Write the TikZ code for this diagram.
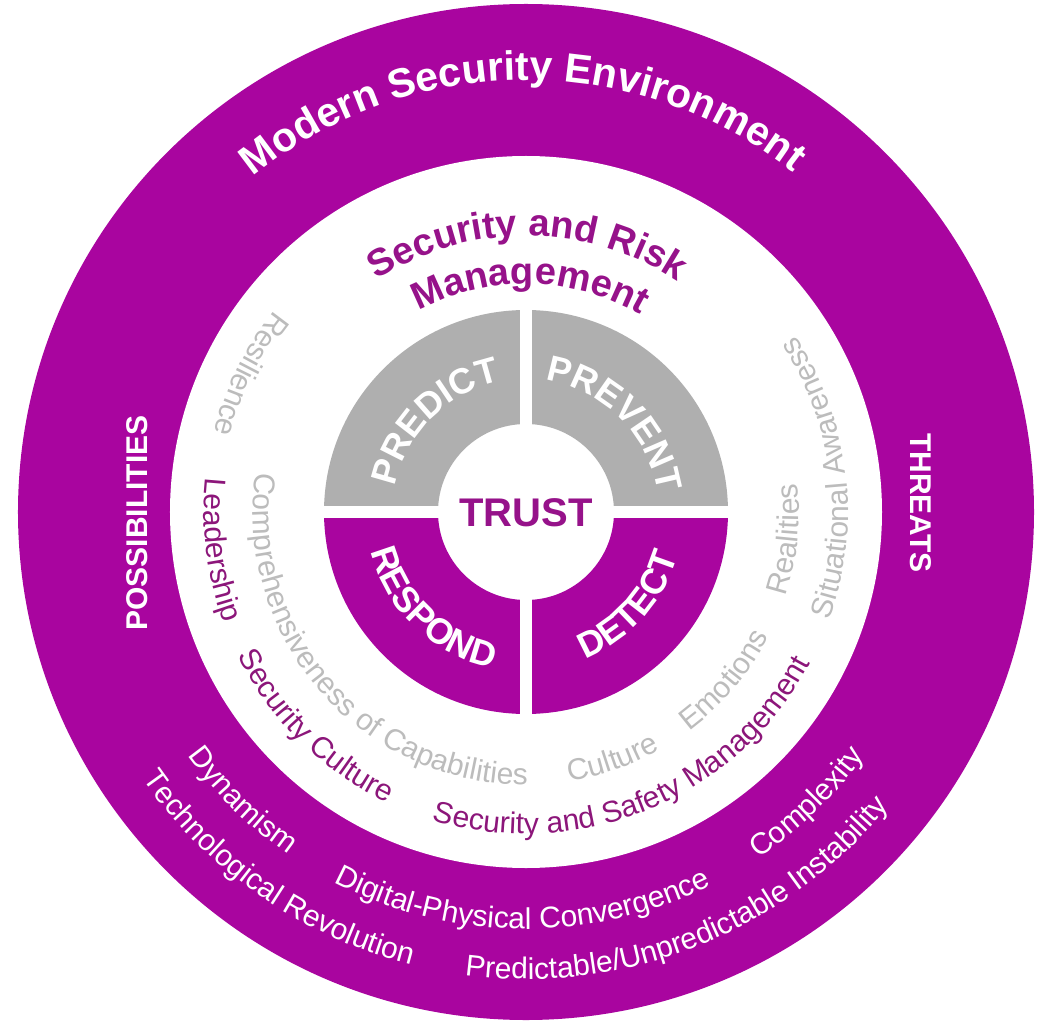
\documentclass[tikz,border=0pt]{standalone}
\usepackage{fontspec}
\setmainfont{Liberation Sans}
\usetikzlibrary{decorations.text}

\definecolor{ringmag}{RGB}{169,5,159}
\definecolor{quadgray}{RGB}{175,175,175}
\definecolor{titlemag}{RGB}{150,18,138}
\definecolor{itemmag}{RGB}{140,22,122}
\definecolor{itemgray}{RGB}{188,188,188}

% fonts (1pt = 1px of the picture)
\newcommand{\bigbold}{\bfseries\fontsize{41}{48}\selectfont}
\newcommand{\midbold}{\bfseries\fontsize{38}{44}\selectfont}
\newcommand{\quadbold}{\bfseries\fontsize{36}{42}\selectfont}
\newcommand{\ringfont}{\fontsize{30}{36}\selectfont}

% text on an arc, centred at an angle: tops outward (cw) or inward (ccw)
\newcommand{\arctextcw}[5]{%
  \path[decorate,decoration={text along path,text align=center,
    text color=#4,text={|#3|#5}}]
    ({#1+80}:#2pt) arc[start angle={#1+80},end angle={#1-80},radius=#2pt];}
\newcommand{\arctextccw}[5]{%
  \path[decorate,decoration={text along path,text align=center,
    text color=#4,text={|#3|#5}}]
    ({#1-80}:#2pt) arc[start angle={#1-80},end angle={#1+80},radius=#2pt];}

\tikzset{
  sidelabel/.style={text=white,font=\bfseries\fontsize{30}{36}\selectfont,inner sep=0pt},
  centrelabel/.style={text=titlemag,font=\bfseries\fontsize{40}{46}\selectfont,inner sep=0pt}
}

\begin{document}
\begin{tikzpicture}[x=1pt,y=1pt]
\useasboundingbox (-526,-508) rectangle (525,512);

% Outer ring and white disk
\fill[ringmag] (0,0) circle[radius=508pt];
\fill[white] (0,0) circle[radius=356pt];

% Four quadrants
\foreach \a/\c in {90/quadgray, 0/quadgray, 180/ringmag, 270/ringmag}
  \fill[\c] (\a:202pt) arc[start angle=\a,end angle=\a+90,radius=202pt]
    -- ({\a+90}:88pt) arc[start angle=\a+90,end angle=\a,radius=88pt] -- cycle;
\draw[white,line width=12pt] (-210,0) -- (210,0);
\draw[white,line width=12pt] (0,-210) -- (0,210);

% Outer ring labels
\arctextcw{90.5}{432}{\bigbold}{white}{Modern Security Environment}
\node[sidelabel,rotate=90] (poss) at (-389,-11) {POSSIBILITIES};
\node[sidelabel,rotate=-90] (threats) at (395,9) {THREATS};
\arctextccw{225.5}{417}{\ringfont}{white}{Dynamism}
\arctextccw{269.5}{417}{\ringfont}{white}{Digital-Physical Convergence}
\arctextccw{314}{417}{\ringfont}{white}{Complexity}
\arctextccw{235.3}{467}{\ringfont}{white}{Technological Revolution}
\arctextccw{291.7}{467}{\ringfont}{white}{Predictable/Unpredictable Instability}

% Title inside the white disk
\arctextcw{89.7}{276}{\midbold}{titlemag}{Security and Risk}
\arctextcw{89}{228}{\midbold}{titlemag}{Management}

% Outer line of the white disk
\arctextccw{153.5}{322}{\ringfont}{itemgray}{Resilience}
\arctextccw{187}{322}{\ringfont}{itemmag}{Leadership}
\arctextccw{225.5}{322}{\ringfont}{itemmag}{Security Culture}
\arctextccw{292.5}{322}{\ringfont}{itemmag}{Security and Safety Management}
\arctextccw{6.8}{322}{\ringfont}{itemgray}{Situational Awareness}

% Inner line of the white disk
\arctextccw{221}{273}{\ringfont}{itemgray}{Comprehensiveness of Capabilities}
\arctextccw{289.3}{273}{\ringfont}{itemgray}{Culture}
\arctextccw{319.8}{273}{\ringfont}{itemgray}{Emotions}
\arctextccw{354}{273}{\ringfont}{itemgray}{Realities}

% Quadrant labels
\arctextcw{135}{133}{\quadbold}{white}{PREDICT}
\arctextcw{45}{133}{\quadbold}{white}{PREVENT}
\arctextccw{226}{160}{\quadbold}{white}{RESPOND}
\arctextccw{318}{158}{\quadbold}{white}{DETECT}

\node[centrelabel] (trust) at (0,-1) {TRUST};
\end{tikzpicture}
\end{document}
